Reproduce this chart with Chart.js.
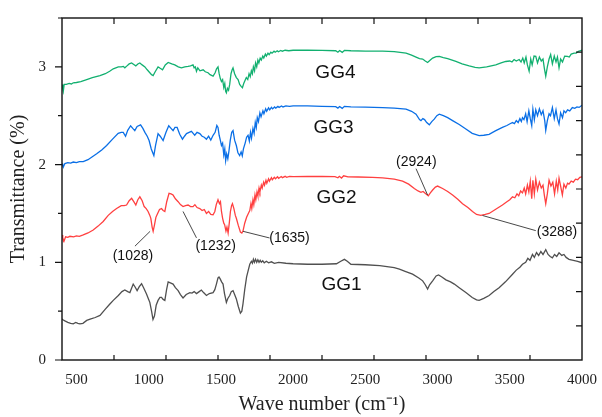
<!DOCTYPE html>
<html><head><meta charset="utf-8">
<script src="https://cdn.jsdelivr.net/npm/chart.js@4"></script>
<style>html,body{margin:0;padding:0;background:#fff}#wrap{width:602px;height:417px}</style>
</head><body><div id="wrap"><canvas id="c" width="602" height="417"></canvas></div>
<script>
const seriesNames = ['GG1','GG2','GG3','GG4'];
const xTicks = [500,1000,1500,2000,2500,3000,3500,4000];
const yTicks = [0,1,2,3];

const gg1 = [[400,0.42],[409,0.41],[420,0.40],[440,0.385],[460,0.375],[478,0.37],[495,0.385],[510,0.375],[524,0.37],[545,0.375],[571,0.405],[600,0.42],[630,0.435],[663,0.456],[700,0.52],[730,0.57],[755,0.61],[790,0.66],[815,0.7],[835,0.716],[855,0.7],[870,0.69],[893,0.777],[905,0.75],[920,0.71],[935,0.75],[951,0.78],[965,0.74],[985,0.675],[1000,0.62],[1008,0.59],[1020,0.5],[1030,0.415],[1040,0.45],[1052,0.56],[1065,0.61],[1078,0.64],[1089,0.64],[1100,0.62],[1112,0.61],[1124,0.72],[1135,0.80],[1150,0.79],[1169,0.777],[1185,0.74],[1204,0.71],[1220,0.67],[1238,0.635],[1260,0.67],[1285,0.69],[1300,0.685],[1315,0.70],[1331,0.68],[1350,0.70],[1365,0.716],[1380,0.69],[1400,0.66],[1420,0.68],[1446,0.69],[1458,0.72],[1469,0.777],[1480,0.84],[1487,0.85],[1495,0.83],[1505,0.8],[1515,0.777],[1525,0.68],[1538,0.59],[1548,0.63],[1561,0.66],[1572,0.70],[1584,0.71],[1595,0.67],[1607,0.625],[1620,0.55],[1635,0.48],[1645,0.50],[1653,0.575],[1665,0.72],[1678,0.85],[1688,0.91],[1700,0.98],[1711,1.01],[1718,0.99],[1725,1.03],[1732,1.0],[1740,1.03],[1748,1.0],[1756,1.025],[1764,1.0],[1772,1.02],[1780,1.0],[1790,1.015],[1800,0.995],[1815,1.01],[1830,0.995],[1850,1.005],[1870,0.99],[1900,1.0],[1950,0.99],[2000,0.985],[2100,0.98],[2200,0.98],[2300,0.985],[2330,1.01],[2355,1.03],[2375,1.01],[2400,0.98],[2500,0.975],[2600,0.965],[2700,0.945],[2736,0.93],[2780,0.905],[2827,0.878],[2870,0.84],[2897,0.81],[2915,0.77],[2931,0.726],[2945,0.77],[2966,0.81],[2990,0.86],[3007,0.87],[3030,0.85],[3058,0.82],[3090,0.80],[3116,0.777],[3150,0.74],[3196,0.69],[3240,0.64],[3270,0.615],[3288,0.61],[3320,0.63],[3357,0.66],[3390,0.70],[3426,0.74],[3470,0.80],[3519,0.878],[3545,0.92],[3570,0.95],[3588,0.98],[3610,1.0],[3625,1.04],[3640,1.02],[3657,1.08],[3670,1.05],[3685,1.10],[3700,1.07],[3715,1.11],[3730,1.08],[3749,1.13],[3765,1.08],[3780,1.06],[3795,1.045],[3810,1.08],[3825,1.06],[3841,1.097],[3860,1.07],[3875,1.08],[3890,1.05],[3910,1.03],[3940,1.02],[3970,1.01],[4000,0.995]];

const gg2 = [[400,1.28],[405,1.25],[414,1.216],[425,1.26],[440,1.255],[455,1.266],[480,1.26],[500,1.27],[520,1.265],[547,1.28],[580,1.30],[616,1.33],[650,1.37],[685,1.418],[720,1.48],[750,1.52],[778,1.55],[810,1.58],[830,1.58],[847,1.586],[865,1.63],[882,1.655],[897,1.62],[911,1.586],[925,1.64],[939,1.67],[955,1.63],[969,1.57],[983,1.55],[996,1.52],[1008,1.48],[1015,1.45],[1024,1.36],[1031,1.317],[1040,1.38],[1050,1.46],[1058,1.486],[1075,1.54],[1089,1.55],[1100,1.53],[1112,1.52],[1125,1.62],[1141,1.705],[1155,1.70],[1169,1.688],[1185,1.65],[1204,1.62],[1220,1.59],[1238,1.57],[1255,1.58],[1273,1.586],[1290,1.57],[1307,1.57],[1320,1.59],[1335,1.56],[1354,1.55],[1370,1.53],[1385,1.54],[1400,1.50],[1415,1.52],[1430,1.49],[1446,1.486],[1458,1.52],[1468,1.59],[1480,1.64],[1490,1.60],[1497,1.62],[1504,1.52],[1512,1.45],[1520,1.40],[1526,1.385],[1535,1.32],[1542,1.36],[1550,1.30],[1558,1.40],[1566,1.52],[1574,1.58],[1580,1.60],[1590,1.55],[1600,1.48],[1607,1.45],[1620,1.38],[1635,1.31],[1645,1.30],[1653,1.32],[1665,1.40],[1678,1.46],[1690,1.50],[1700,1.53],[1708,1.60],[1714,1.55],[1722,1.64],[1728,1.59],[1736,1.69],[1742,1.64],[1750,1.72],[1756,1.68],[1764,1.76],[1770,1.72],[1780,1.79],[1786,1.76],[1796,1.82],[1802,1.79],[1812,1.84],[1818,1.81],[1830,1.855],[1836,1.83],[1850,1.865],[1856,1.845],[1870,1.87],[1878,1.855],[1892,1.875],[1900,1.86],[1918,1.878],[1926,1.866],[1945,1.88],[1955,1.87],[1975,1.88],[2000,1.877],[2100,1.88],[2200,1.878],[2290,1.876],[2310,1.865],[2320,1.88],[2335,1.862],[2350,1.885],[2380,1.875],[2450,1.873],[2550,1.868],[2620,1.864],[2700,1.85],[2758,1.83],[2800,1.80],[2839,1.755],[2865,1.73],[2885,1.716],[2900,1.725],[2912,1.71],[2936,1.68],[2950,1.71],[2966,1.74],[2985,1.77],[3000,1.78],[3035,1.755],[3070,1.725],[3104,1.688],[3140,1.645],[3173,1.60],[3210,1.56],[3242,1.52],[3270,1.49],[3300,1.48],[3330,1.49],[3357,1.50],[3400,1.54],[3449,1.586],[3480,1.62],[3500,1.64],[3519,1.67],[3535,1.66],[3550,1.70],[3562,1.68],[3575,1.73],[3588,1.71],[3600,1.76],[3610,1.70],[3622,1.79],[3632,1.72],[3642,1.83],[3652,1.65],[3660,1.84],[3670,1.70],[3680,1.85],[3692,1.74],[3705,1.82],[3718,1.76],[3730,1.79],[3740,1.68],[3749,1.60],[3760,1.70],[3772,1.84],[3785,1.78],[3798,1.82],[3810,1.70],[3822,1.83],[3832,1.74],[3841,1.86],[3852,1.78],[3864,1.69],[3875,1.80],[3888,1.76],[3900,1.81],[3910,1.80],[3925,1.83],[3940,1.82],[3955,1.85],[3970,1.845],[3985,1.87],[4000,1.875]];

const gg3 = [[400,2.01],[405,1.99],[409,1.975],[420,2.01],[440,2.02],[460,2.015],[478,2.026],[500,2.02],[520,2.03],[547,2.03],[580,2.05],[610,2.08],[640,2.11],[675,2.15],[709,2.195],[750,2.26],[789,2.32],[810,2.33],[824,2.33],[840,2.29],[855,2.35],[875,2.397],[890,2.37],[904,2.347],[920,2.39],[944,2.407],[960,2.37],[974,2.33],[990,2.29],[1003,2.246],[1018,2.16],[1036,2.093],[1048,2.2],[1065,2.317],[1080,2.29],[1100,2.246],[1120,2.33],[1139,2.397],[1155,2.37],[1169,2.347],[1182,2.38],[1197,2.38],[1215,2.31],[1234,2.26],[1248,2.29],[1262,2.317],[1280,2.33],[1296,2.34],[1308,2.32],[1319,2.30],[1335,2.33],[1354,2.317],[1370,2.29],[1385,2.28],[1400,2.26],[1415,2.29],[1430,2.25],[1446,2.30],[1460,2.33],[1472,2.40],[1480,2.38],[1488,2.30],[1496,2.25],[1504,2.195],[1512,2.22],[1520,2.10],[1527,2.16],[1533,2.04],[1540,2.11],[1548,2.06],[1556,2.14],[1565,2.25],[1575,2.33],[1584,2.347],[1595,2.25],[1607,2.195],[1618,2.12],[1630,2.093],[1640,2.13],[1648,2.09],[1656,2.16],[1668,2.22],[1678,2.28],[1688,2.30],[1697,2.24],[1705,2.33],[1712,2.27],[1722,2.37],[1730,2.32],[1738,2.43],[1745,2.38],[1752,2.48],[1760,2.44],[1770,2.53],[1778,2.49],[1791,2.55],[1798,2.52],[1810,2.57],[1817,2.545],[1830,2.58],[1838,2.56],[1850,2.585],[1858,2.57],[1872,2.59],[1880,2.578],[1895,2.595],[1903,2.585],[1920,2.60],[1930,2.59],[1950,2.60],[1975,2.595],[2000,2.60],[2100,2.60],[2200,2.595],[2295,2.592],[2310,2.578],[2322,2.594],[2340,2.575],[2355,2.596],[2400,2.59],[2500,2.588],[2620,2.583],[2700,2.578],[2782,2.567],[2820,2.545],[2851,2.516],[2875,2.46],[2885,2.45],[2898,2.47],[2910,2.46],[2925,2.43],[2943,2.407],[2960,2.44],[2977,2.465],[2995,2.50],[3012,2.516],[3040,2.50],[3070,2.48],[3104,2.45],[3150,2.41],[3196,2.364],[3240,2.32],[3288,2.296],[3320,2.30],[3357,2.31],[3400,2.345],[3449,2.38],[3480,2.40],[3505,2.42],[3519,2.43],[3532,2.42],[3545,2.45],[3558,2.43],[3570,2.47],[3580,2.44],[3588,2.48],[3598,2.46],[3610,2.52],[3620,2.44],[3632,2.55],[3642,2.47],[3652,2.40],[3660,2.567],[3670,2.46],[3680,2.56],[3692,2.50],[3705,2.57],[3718,2.51],[3730,2.55],[3742,2.45],[3749,2.35],[3760,2.45],[3772,2.52],[3782,2.50],[3795,2.583],[3808,2.47],[3820,2.56],[3830,2.47],[3841,2.415],[3852,2.53],[3865,2.48],[3875,2.55],[3887,2.53],[3900,2.56],[3915,2.55],[3933,2.583],[3950,2.575],[3965,2.59],[3980,2.585],[4000,2.607]];

const gg4 = [[400,2.82],[405,2.78],[409,2.75],[415,2.82],[430,2.82],[450,2.83],[465,2.825],[478,2.837],[500,2.84],[530,2.85],[571,2.87],[610,2.89],[663,2.91],[700,2.93],[730,2.955],[755,2.98],[790,3.0],[810,3.0],[824,3.005],[835,2.99],[850,3.01],[865,3.03],[882,3.04],[897,3.025],[911,3.01],[925,3.03],[939,3.04],[955,3.02],[974,3.0],[990,2.97],[1008,2.94],[1020,2.92],[1031,2.91],[1045,2.95],[1065,3.0],[1080,2.985],[1096,2.97],[1115,3.02],[1135,3.045],[1160,3.03],[1181,3.02],[1205,3.0],[1227,2.99],[1250,3.0],[1273,3.005],[1290,3.01],[1307,3.02],[1315,2.99],[1323,3.0],[1331,2.955],[1340,2.99],[1355,2.96],[1377,2.97],[1392,2.95],[1411,2.94],[1425,2.92],[1446,2.905],[1460,2.94],[1470,2.98],[1480,3.0],[1488,2.93],[1496,2.88],[1504,2.85],[1512,2.87],[1520,2.79],[1527,2.83],[1533,2.75],[1538,2.735],[1545,2.78],[1553,2.76],[1561,2.82],[1570,2.93],[1578,2.97],[1584,2.99],[1595,2.93],[1607,2.89],[1619,2.87],[1630,2.82],[1640,2.80],[1649,2.787],[1658,2.83],[1667,2.86],[1676,2.89],[1686,2.87],[1695,2.93],[1703,2.90],[1711,2.96],[1718,2.93],[1725,3.0],[1733,2.96],[1740,3.04],[1748,3.0],[1756,3.07],[1763,3.04],[1772,3.09],[1780,3.07],[1790,3.11],[1797,3.09],[1808,3.13],[1815,3.11],[1826,3.14],[1834,3.125],[1846,3.15],[1854,3.14],[1868,3.16],[1876,3.15],[1890,3.165],[1898,3.155],[1915,3.168],[1925,3.16],[1945,3.17],[1970,3.165],[2000,3.17],[2100,3.17],[2200,3.168],[2295,3.165],[2310,3.15],[2322,3.167],[2340,3.148],[2355,3.168],[2400,3.165],[2500,3.162],[2620,3.16],[2700,3.155],[2782,3.14],[2820,3.12],[2851,3.1],[2875,3.085],[2897,3.08],[2915,3.06],[2931,3.045],[2950,3.07],[2966,3.09],[2990,3.105],[3012,3.107],[3040,3.095],[3070,3.085],[3127,3.055],[3170,3.03],[3219,3.01],[3260,2.995],[3288,2.99],[3340,3.0],[3403,3.02],[3440,3.04],[3472,3.055],[3500,3.06],[3515,3.05],[3530,3.075],[3545,3.06],[3565,3.075],[3578,3.05],[3590,3.09],[3600,3.04],[3612,3.10],[3622,3.02],[3634,2.955],[3645,3.08],[3655,3.02],[3668,3.11],[3680,3.107],[3692,3.04],[3705,3.10],[3718,3.06],[3730,3.08],[3740,2.98],[3749,2.905],[3760,3.0],[3772,3.08],[3783,3.126],[3795,3.03],[3808,3.11],[3820,3.05],[3830,3.10],[3841,2.99],[3852,3.08],[3865,3.05],[3880,3.11],[3899,3.107],[3912,3.10],[3925,3.13],[3945,3.14],[3960,3.14],[3975,3.16],[3991,3.167],[4000,3.17]];

const seriesColors = ['#505050','#ff4040','#0a6fe6','#12b070'];
const seriesData = [gg1, gg2, gg3, gg4];
// series name label positions (data coords)
const seriesLabelPos = [[2335,0.77],[2300,1.662],[2280,2.381],[2293,2.938]];
// peak annotations: text, text position, leader line start, leader line end
const peakLabels = ['(1028)','(1232)','(1635)','(2924)','(3288)'];
const peakTextPos = [[891,1.064],[1464,1.165],[1975,1.246],[2853,2.026],[3827,1.307]];
const peakLineFrom = [[1010,1.317],[1238,1.52],[1653,1.317],[2851,1.958],[3311,1.479]];
const peakLineTo = [[905,1.165],[1331,1.25],[1837,1.249],[2931,1.688],[3680,1.324]];

const frame = {
  id: 'frame',
  afterDraw(chart) {
    const {ctx} = chart;
    const xs = chart.scales.x, ys = chart.scales.y;
    const L = xs.left, R = xs.right, T = ys.top, B = ys.bottom;
    ctx.save();
    ctx.strokeStyle = '#111'; ctx.lineWidth = 1.4;
    ctx.strokeRect(L, T, R - L, B - T);
    ctx.lineWidth = 1.2;
    ctx.beginPath();
    // left ticks outward (major 1, minor 0.5)
    for (let v = 0; v <= 3.5 + 1e-9; v += 0.5) {
      const y = ys.getPixelForValue(v);
      const len = Math.abs(v - Math.round(v)) < 1e-6 ? 7 : 4;
      ctx.moveTo(L, y); ctx.lineTo(L - len, y);
    }
    // right ticks inward (10 divisions)
    for (let k = 1; k < 10; k++) {
      const y = ys.getPixelForValue(3.5 * k / 10);
      ctx.moveTo(R, y); ctx.lineTo(R - 6, y);
    }
    // top & bottom ticks inward (10 divisions)
    for (let k = 1; k < 10; k++) {
      const x = xs.getPixelForValue(400 + 360 * k);
      ctx.moveTo(x, T); ctx.lineTo(x, T + 6);
      ctx.moveTo(x, B); ctx.lineTo(x, B - 5);
    }
    ctx.stroke();

    // series labels
    ctx.fillStyle = '#111';
    ctx.font = '19px "Liberation Sans", Arial, sans-serif';
    ctx.textAlign = 'center'; ctx.textBaseline = 'middle';
    seriesNames.forEach((n, i) => {
      const p = seriesLabelPos[i];
      ctx.fillText(n, xs.getPixelForValue(p[0]), ys.getPixelForValue(p[1]));
    });
    // peak annotations
    ctx.strokeStyle = '#333'; ctx.lineWidth = 0.9;
    ctx.beginPath();
    peakLabels.forEach((t, i) => {
      ctx.moveTo(xs.getPixelForValue(peakLineFrom[i][0]), ys.getPixelForValue(peakLineFrom[i][1]));
      ctx.lineTo(xs.getPixelForValue(peakLineTo[i][0]), ys.getPixelForValue(peakLineTo[i][1]));
    });
    ctx.stroke();
    ctx.font = '14px "Liberation Sans", Arial, sans-serif';
    peakLabels.forEach((t, i) => {
      ctx.fillText(t, xs.getPixelForValue(peakTextPos[i][0]), ys.getPixelForValue(peakTextPos[i][1]));
    });
    ctx.restore();
  }
};

new Chart(document.getElementById('c'), {
  type: 'line',
  data: {
    datasets: seriesData.map((d, i) => ({
      label: seriesNames[i],
      data: d.map(p => ({x: p[0], y: p[1]})),
      borderColor: seriesColors[i],
      borderWidth: 1.3,
      pointRadius: 0,
      tension: 0,
      fill: false
    }))
  },
  options: {
    responsive: false,
    animation: false,
    devicePixelRatio: 1,
    layout: {padding: {left: 0, right: 19, top: 15, bottom: 0}},
    plugins: {legend: {display: false}, tooltip: {enabled: false}},
    scales: {
      x: {
        type: 'linear', min: 400, max: 4000,
        afterBuildTicks: s => { s.ticks = xTicks.map(v => ({value: v})); },
        afterFit: s => { s.height = 57; },
        grid: {display: true, color: 'rgba(0,0,0,0)', drawTicks: true, tickLength: 6},
        border: {display: false},
        ticks: {color: '#222', padding: 5, maxRotation: 0, callback: v => String(v),
                font: {family: '"Liberation Serif", "Times New Roman", serif', size: 15}},
        title: {display: true, text: 'Wave number (cm\u207B\u00B9)', color: '#222', padding: {top: 0, bottom: 0},
                font: {family: '"Liberation Serif", "Times New Roman", serif', size: 20}}
      },
      y: {
        type: 'linear', min: 0, max: 3.5,
        afterBuildTicks: s => { s.ticks = yTicks.map(v => ({value: v})); },
        afterFit: s => { s.width = 62; },
        grid: {display: true, color: 'rgba(0,0,0,0)', drawTicks: true, tickLength: 7},
        border: {display: false},
        ticks: {color: '#222', padding: 9, callback: v => String(v),
                font: {family: '"Liberation Serif", "Times New Roman", serif', size: 15}},
        title: {display: true, text: 'Transmittance (%)', color: '#222', padding: {top: 7, bottom: 0},
                font: {family: '"Liberation Serif", "Times New Roman", serif', size: 20}}
      }
    }
  },
  plugins: [frame]
});
</script>
</body></html>
